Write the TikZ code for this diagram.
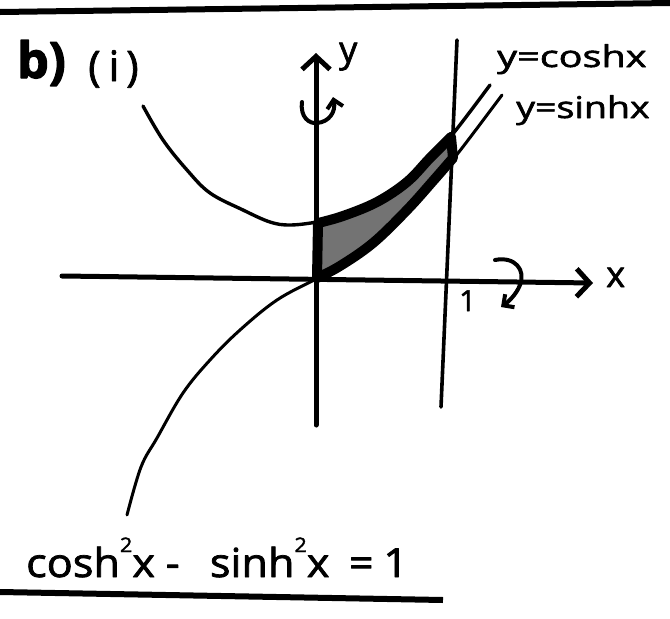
\documentclass[tikz,border=0pt]{standalone}
\usepackage{fontspec}
\setmainfont{Open Sans}[FakeBold=1.8]
\newfontfamily\boldhand{Open Sans Bold}[FakeBold=2.5]
\usetikzlibrary{arrows.meta}
\newcommand\mysq{\raisebox{25pt}{\fontsize{20}{20}\selectfont 2}}
\begin{document}
\begin{tikzpicture}[x=1pt,y=-1pt,line cap=round,line join=round,
  txt/.style={anchor=base west,inner sep=0pt},
  barb/.style={-{Straight Barb[length=13pt,width=28pt]}},
  smallbarb/.style={-{Straight Barb[length=8pt,width=16pt]}},
  axisline/.style={line width=5pt},
  curve/.style={line width=3.4pt}]
\useasboundingbox (0,0) rectangle (670,619);
\fill[white] (0,0) rectangle (670,619);
% top rule
\coordinate (tl) at (0,12);
\coordinate (tr) at (670,3);
\draw[line width=6pt,line cap=butt] (tl) -- (tr);
% shaded region
\filldraw[fill=black!55, line width=10pt]
  plot[smooth,tension=0.6] coordinates {(318,223) (343,216) (377,202) (407,182) (430,158) (451,137)}
  -- plot[smooth,tension=0.6] coordinates {(453,158) (433,181) (407,210) (373,243) (340,266) (317,278)}
  -- cycle;
% cosh curve
\draw[curve] plot[smooth,tension=0.6] coordinates {(143,106) (163,140) (187,170) (210,193) (243,210) (270,222) (290,225) (317,222) (343,216) (377,202) (407,182) (430,158) (452,135) (490,85)};
% sinh curve
\draw[curve,line width=3pt] plot[smooth,tension=0.6] coordinates {(127,515) (141,467) (157,438) (183,393) (210,360) (240,330) (277,300) (316,279) (340,266) (373,243) (407,210) (433,181) (455,157) (502,95)};
% axes
\coordinate (ybot) at (316,425);
\coordinate (ytop) at (316,53);
\draw[axisline,barb] (ybot) -- (ytop);
\coordinate (xleft) at (62,276);
\coordinate (xright) at (593,283);
\draw[axisline,barb] (xleft) -- (xright);
% x = 1 line
\coordinate (onetop) at (457,40);
\coordinate (onebot) at (441,407);
\draw[line width=3.6pt] (onetop) -- (onebot);
% rotation arrows
\draw[line width=4pt,smallbarb] (302,102) .. controls (300,117) and (309,124) .. (317,123) .. controls (329,122) and (336,112) .. (333,97);
\draw[line width=4pt,smallbarb] (495,260) .. controls (515,256) and (526,270) .. (520,285) .. controls (516,295) and (508,302) .. (501,307);
% labels
\node[txt,font=\fontsize{50}{50}\boldhand] (partb) at (17,78) {b)};
\node[txt,font=\fontsize{42}{42}\selectfont] (parti) at (88,81) {(\hspace{8pt}i\hspace{7pt})};
\node[txt,font=\fontsize{36}{36}\selectfont] (ylab) at (339,62) {y};
\node[txt,font=\fontsize{36}{36}\selectfont] (xlab) at (606,287) {x};
\node[txt,font=\fontsize{29}{29}\selectfont] (onelab) at (459,311) {1};
\node[txt,font=\fontsize{30}{30}\selectfont] (coshlab) at (497,67) {\scalebox{1.32}[1]{y=coshx}};
\node[txt,font=\fontsize{30}{30}\selectfont] (sinhlab) at (516,118) {\scalebox{1.25}[1]{y=sinhx}};
\node[txt,font=\fontsize{40}{40}\selectfont] (ident) at (26,577) {\scalebox{1.08}[1]{cosh\mysq x\hspace{10pt}-\hspace{28pt}sinh\mysq x\hspace{18pt}=\hspace{9pt}1}};
% underline
\coordinate (ul) at (0,592);
\coordinate (ur) at (443,600);
\draw[line width=6pt,line cap=butt] (ul) -- (ur);
\end{tikzpicture}
\end{document}
